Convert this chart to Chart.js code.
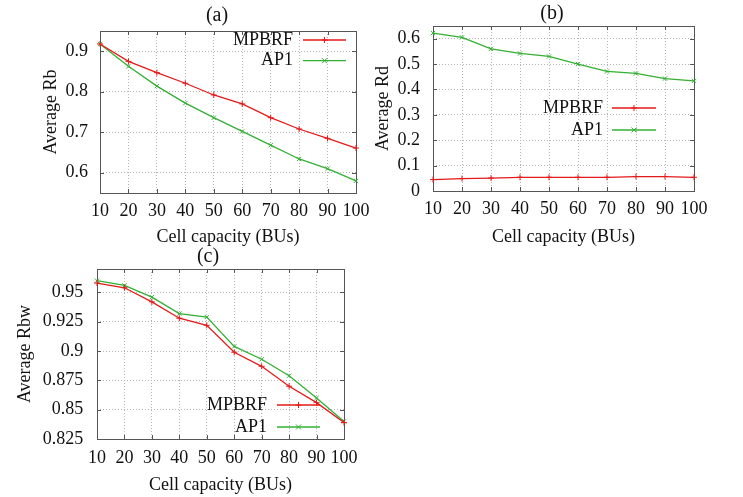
<!DOCTYPE html>
<html>
<head>
<meta charset="utf-8">
<script src="https://cdn.jsdelivr.net/npm/chart.js@4.4.0/dist/chart.umd.min.js"></script>
<style>
  html, body { margin: 0; padding: 0; background: #fff; overflow: hidden; }
  #wrap { position: relative; width: 743px; height: 497px; overflow: hidden; }
  #wrap canvas { position: absolute; left: 0; top: 0; }
</style>
</head>
<body>
<div id="wrap">
  <canvas id="chartA" width="743" height="540"></canvas>
  <canvas id="chartB" width="743" height="540"></canvas>
  <canvas id="chartC" width="743" height="540"></canvas>
</div>
<script>
// ---- datos ----
const capacity = [10, 20, 30, 40, 50, 60, 70, 80, 90, 100];

// (a) Average Rb
const rbMPBRF = [0.918, 0.875, 0.847, 0.821, 0.792, 0.770, 0.736, 0.708, 0.685, 0.661];
const rbAP1   = [0.918, 0.863, 0.814, 0.772, 0.736, 0.702, 0.668, 0.634, 0.610, 0.580];
const rbTicks = [0.6, 0.7, 0.8, 0.9];

// (b) Average Rd
const rdMPBRF = [0.045, 0.049, 0.051, 0.054, 0.054, 0.054, 0.054, 0.057, 0.057, 0.054];
const rdAP1   = [0.622, 0.605, 0.560, 0.542, 0.530, 0.500, 0.471, 0.463, 0.443, 0.434];
const rdTicks = [0, 0.1, 0.2, 0.3, 0.4, 0.5, 0.6];

// (c) Average Rbw
const rbwMPBRF = [0.958, 0.954, 0.942, 0.928, 0.922, 0.899, 0.887, 0.870, 0.856, 0.839];
const rbwAP1   = [0.960, 0.956, 0.946, 0.932, 0.929, 0.904, 0.893, 0.879, 0.860, 0.840];
const rbwTicks = [0.825, 0.85, 0.875, 0.9, 0.925, 0.95];

const RED = '#e41a1a';
const GREEN = '#33b033';
const FONT = "'Liberation Serif', 'DejaVu Serif', serif";
const FS = 18;

// marco estilo gnuplot, marcas de eje hacia dentro, leyenda y titulo
const gnuplotStyle = {
  id: 'gnuplotStyle',
  beforeDatasetsDraw(chart) {
    const { ctx, chartArea: a, scales } = chart;
    ctx.save();
    ctx.strokeStyle = '#555';
    ctx.lineWidth = 1;
    ctx.beginPath();
    scales.x.ticks.forEach((t, i) => {
      const px = Math.round(scales.x.getPixelForTick(i)) + 0.5;
      ctx.moveTo(px, a.bottom); ctx.lineTo(px, a.bottom - 4);
      ctx.moveTo(px, a.top); ctx.lineTo(px, a.top + 4);
    });
    scales.y.ticks.forEach(t => {
      const py = Math.round(scales.y.getPixelForValue(t.value)) + 0.5;
      ctx.moveTo(a.left, py); ctx.lineTo(a.left + 4, py);
      ctx.moveTo(a.right, py); ctx.lineTo(a.right - 4, py);
    });
    ctx.stroke();
    ctx.strokeRect(Math.round(a.left) + 0.5, Math.round(a.top) + 0.5,
      Math.round(a.width), Math.round(a.height));
    ctx.restore();
  },
  afterDatasetsDraw(chart, args, opts) {
    const { ctx } = chart;
    ctx.save();
    ctx.fillStyle = '#111';
    ctx.font = '20px ' + FONT;
    ctx.textAlign = 'center';
    ctx.textBaseline = 'middle';
    ctx.fillText(opts.title, opts.titleX, opts.titleY);

    const k = opts.key;
    ctx.font = FS + 'px ' + FONT;
    ctx.textAlign = 'right';
    chart.data.datasets.forEach((ds, i) => {
      const y = k.top + i * k.row;
      ctx.fillStyle = '#111';
      ctx.fillText(ds.label, k.right, y);
      ctx.strokeStyle = ds.borderColor;
      ctx.lineWidth = 1.3;
      ctx.beginPath();
      ctx.moveTo(k.x1, y); ctx.lineTo(k.x2, y);
      ctx.stroke();
      const mx = (k.x1 + k.x2) / 2;
      ctx.lineWidth = 1;
      ctx.beginPath();
      if (ds.pointStyle === 'cross') {
        ctx.moveTo(mx - 3, y); ctx.lineTo(mx + 3, y);
        ctx.moveTo(mx, y - 3); ctx.lineTo(mx, y + 3);
      } else {
        ctx.moveTo(mx - 2.5, y - 2.5); ctx.lineTo(mx + 2.5, y + 2.5);
        ctx.moveTo(mx - 2.5, y + 2.5); ctx.lineTo(mx + 2.5, y - 2.5);
      }
      ctx.stroke();
    });
    ctx.restore();
  }
};

function serie(label, data, color, marker) {
  return {
    label: label,
    data: data,
    borderColor: color,
    backgroundColor: color,
    borderWidth: 1.3,
    pointStyle: marker,
    pointRadius: 3,
    pointBorderWidth: 1,
    pointHoverRadius: 3,
    tension: 0,
    clip: false
  };
}

function crearGrafico(id, cfg) {
  const ctx = document.getElementById(id);
  return new Chart(ctx, {
    type: 'line',
    data: {
      labels: capacity,
      datasets: [
        serie('MPBRF', cfg.mpbrf, RED, 'cross'),
        serie('AP1', cfg.ap1, GREEN, 'crossRot')
      ]
    },
    options: {
      responsive: false,
      animation: false,
      events: [],
      layout: { padding: cfg.padding },
      scales: {
        x: {
          type: 'category',
          offset: false,
          grid: { color: '#b4b4b4', lineWidth: 1, drawTicks: false },
          border: { display: false, dash: [1, 2] },
          ticks: {
            color: '#111', font: { family: FONT, size: FS },
            padding: cfg.xPad, autoSkip: false, maxRotation: 0
          },
          title: {
            display: true, text: 'Cell capacity (BUs)', color: '#111',
            font: { family: FONT, size: FS }, padding: { top: 4, bottom: 4 }
          },
          afterFit: s => { s.height = cfg.xHeight; }
        },
        y: {
          min: cfg.min,
          max: cfg.max,
          afterBuildTicks: s => { s.ticks = cfg.ticks.map(v => ({ value: v })); },
          grid: { color: '#b4b4b4', lineWidth: 1, drawTicks: false },
          border: { display: false, dash: [1, 2] },
          ticks: {
            color: '#111', font: { family: FONT, size: FS },
            padding: cfg.yPad,
            callback: v => String(v)
          },
          title: {
            display: true, text: cfg.yTitle, color: '#111',
            font: { family: FONT, size: FS }, padding: { top: 4, bottom: 4 }
          },
          afterFit: s => { s.width = cfg.yWidth; }
        }
      },
      plugins: {
        legend: { display: false },
        tooltip: { enabled: false },
        gnuplotStyle: {
          title: cfg.title, titleX: cfg.titleX, titleY: cfg.titleY, key: cfg.key
        }
      }
    },
    plugins: [gnuplotStyle]
  });
}

// (a)
crearGrafico('chartA', {
  mpbrf: rbMPBRF, ap1: rbAP1, ticks: rbTicks, min: 0.55, max: 0.95,
  yTitle: 'Average Rb', title: '(a)', titleX: 217, titleY: 16,
  padding: { left: 36.9, top: 31, right: 387, bottom: 287.9 },
  yWidth: 63.1, xHeight: 59.1, yPad: 12, xPad: 7.9,
  key: { right: 293, top: 40, row: 20.7, x1: 303, x2: 346 }
});

// (b)
crearGrafico('chartB', {
  mpbrf: rdMPBRF, ap1: rdAP1, ticks: rdTicks, min: 0, max: 0.65,
  yTitle: 'Average Rd', title: '(b)', titleX: 552, titleY: 14,
  padding: { left: 368.9, top: 26, right: 49, bottom: 287.9 },
  yWidth: 64.1, xHeight: 61.1, yPad: 13, xPad: 7.5,
  key: { right: 603, top: 108, row: 22, x1: 612, x2: 656 }
});

// (c)
crearGrafico('chartC', {
  mpbrf: rbwMPBRF, ap1: rbwAP1, ticks: rbwTicks, min: 0.825, max: 0.97,
  yTitle: 'Average Rbw', title: '(c)', titleX: 208, titleY: 257,
  padding: { left: 10.2, top: 269, right: 399, bottom: 39.5 },
  yWidth: 86.8, xHeight: 61.5, yPad: 13.7, xPad: 8.5,
  key: { right: 267, top: 405, row: 22, x1: 277, x2: 320 }
});
</script>
</body>
</html>
